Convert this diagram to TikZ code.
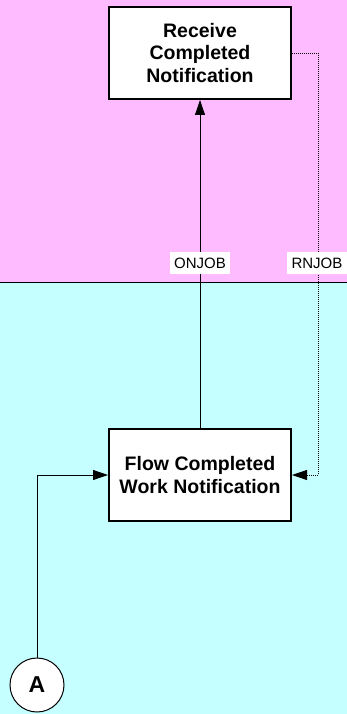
\documentclass[tikz,border=0pt]{standalone}
\usepackage{fontspec}
\setmainfont{Liberation Sans}
\usetikzlibrary{arrows.meta}
\definecolor{lanepink}{RGB}{255,187,255}
\definecolor{lanecyan}{RGB}{198,255,255}
\begin{document}
\begin{tikzpicture}[x=1pt,y=-1pt,
  procbox/.style={draw=black,line width=2pt,fill=white,minimum width=182pt,minimum height=92pt,inner sep=0pt,align=center,font=\bfseries\fontsize{19.5}{22.5}\selectfont},
  flowlbl/.style={fill=white,inner sep=2pt,minimum width=60pt,minimum height=22pt,font=\fontsize{15}{17}\selectfont},
  flowarrow/.style={line width=0.8pt,-{Triangle[length=15pt,width=10pt]}},
  connector/.style={draw=black,line width=1pt,fill=white,circle,minimum size=54pt,inner sep=0pt,font=\bfseries\fontsize{23}{25}\selectfont}]
\useasboundingbox (0,0) rectangle (347,714);
\fill[lanepink] (0,0) rectangle (347,282);
\fill[lanecyan] (0,282) rectangle (347,714);
\coordinate (laneL) at (0,282);
\coordinate (laneR) at (347,282);
\draw[line width=1pt] (laneL) -- (laneR);
\node[procbox] (recv) at (200,53) {Receive\\Completed\\Notification};
\node[procbox] (flow) at (200,475) {Flow Completed\\Work Notification};
\node[connector] (A) at (37,685) {A};
\draw[flowarrow] (flow.north) -- (recv.south);
\draw[flowarrow,dash pattern=on 1pt off 1pt] (recv.east) -- ++(26,0) |- (flow.east);
\draw[flowarrow] (A.north) |- (flow.west);
\node[flowlbl] (onjob) at (200,263) {ONJOB};
\node[flowlbl] (rnjob) at (317,263) {RNJOB};
\end{tikzpicture}
\end{document}
